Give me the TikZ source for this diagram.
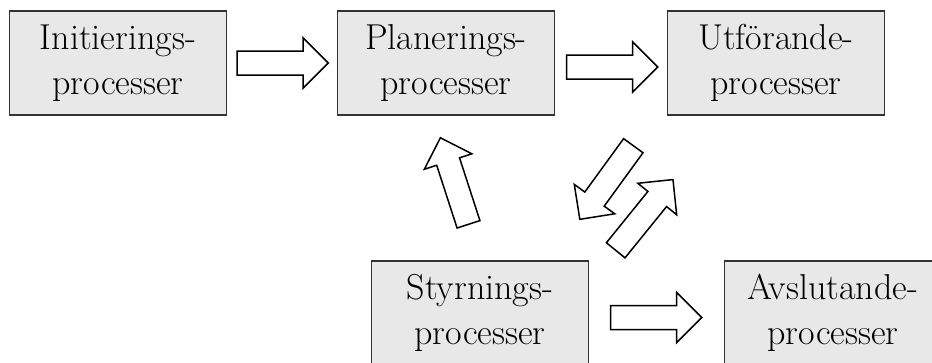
\documentclass[tikz,border=0pt]{standalone}
\usepackage{fontspec}
\usetikzlibrary{calc}

\tikzset{
    process/.style = {draw = black!80, line width = 1.4pt, fill = black!9,
                      minimum width = 217pt, minimum height = 104pt,
                      align = center, inner sep = 0pt,
                      font = \fontsize{36}{45}\selectfont},
    blockline/.style = {draw = black, line width = 1.5pt, fill = white, line join = miter},
    pics/blockarrow/.style = {code = {
        \draw[blockline] (0,-12) -- (66,-12) -- (66,-25) -- (91,0)
                         -- (66,25) -- (66,12) -- (0,12) -- cycle;
    }}
}

\begin{document}
\begin{tikzpicture}[x = 1pt, y = -1pt]
    \useasboundingbox (0,0) rectangle (932,362);
    \clip (0,0) rectangle (932,362);

    % Top row of process groups
    \node[process] (init) at (118, 63) {Initierings-\\processer};
    \node[process] (plan) at (446, 63) {Planerings-\\processer};
    \node[process] (utf)  at (776, 63) {Utförande-\\processer};

    % Bottom row of process groups
    \node[process] (styr) at (480, 313) {Styrnings-\\processer};
    \node[process] (avsl) at (833, 313) {Avslutande-\\processer};

    % Block arrows between the groups
    \pic             at ($(init.east) + (10, 0)$)           {blockarrow};  % init -> plan
    \pic             at ($(plan.east) + (11.5, 4)$)         {blockarrow};  % plan -> utf
    \pic             at ($(styr.east) + (21.5, 4.5)$)       {blockarrow};  % styr -> avsl
    \pic[rotate=108] at ($(styr.north) + (-11.5, -36)$)     {blockarrow};  % styr -> plan
    \pic[rotate=234] at ($(utf.south west) + (-33.5, 30)$)  {blockarrow};  % utf -> styr
    \pic[rotate=51]  at ($(styr.north east) + (26.5, -10)$) {blockarrow};  % styr -> utf
\end{tikzpicture}
\end{document}
